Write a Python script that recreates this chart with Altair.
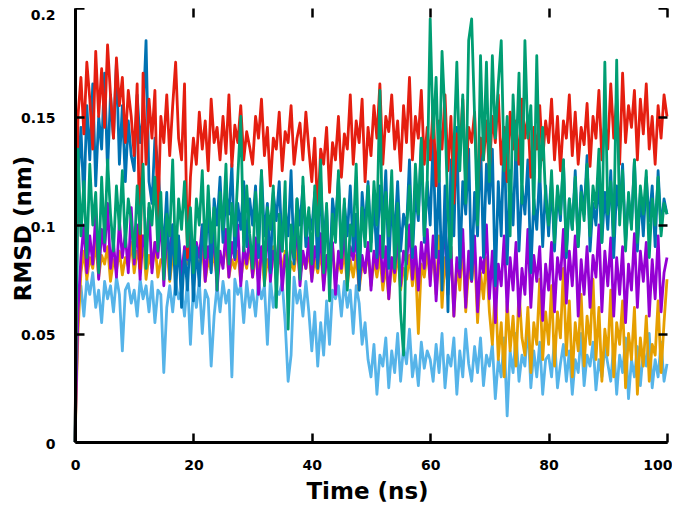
import altair as alt
import pandas as pd

# RMSD values in units of 0.001 nm, sampled every 0.5 ns from 0 to 100 ns
TIME_STEP_NS = 0.5

sky_vals = [
    0, 65, 72, 58, 75, 68, 78, 62, 70, 55, 74, 66, 72, 60, 76, 68, 42, 70, 73, 64,
    70, 58, 75, 66, 72, 60, 74, 55, 70, 68, 32, 62, 72, 60, 74, 66, 70, 58, 75, 45,
    72, 62, 74, 50, 70, 66, 35, 58, 72, 60, 74, 64, 70, 30, 75, 68, 72, 55, 74, 62,
    70, 58, 74, 66, 72, 45, 75, 62, 70, 68, 74, 55, 28, 40, 76, 64, 70, 58, 74, 60,
    42, 60, 35, 55, 40, 65, 45, 70, 66, 72, 58, 74, 62, 70, 50, 72, 64, 45, 55, 38,
    30, 45, 22, 40, 35, 48, 25, 42, 32, 50, 28, 44, 36, 52, 30, 40, 26, 46, 34, 42,
    38, 28, 45, 32, 50, 25, 40, 35, 48, 22, 42, 30, 52, 36, 28, 44, 32, 48, 26, 40,
    35, 45, 20, 38, 30, 48, 12, 42, 32, 50, 28, 40, 35, 55, 25, 42, 30, 46, 22, 38,
    40, 30, 48, 25, 36, 45, 28, 42, 22, 38, 32, 50, 26, 40, 35, 46, 24, 38, 30, 44,
    36, 28, 45, 22, 40, 32, 48, 20, 38, 30, 44, 26, 42, 35, 50, 25, 38, 30, 46, 28,
    36,
]

orange_vals = [
    0, 50, 78, 88, 75, 85, 80, 92, 76, 86, 82, 90, 74, 84, 79, 88, 77, 85, 81, 92,
    78, 88, 82, 95, 75, 86, 80, 92, 76, 84, 82, 90, 74, 86, 80, 88, 76, 85, 82, 90,
    78, 86, 80, 90, 74, 84, 79, 88, 75, 85, 82, 92, 76, 84, 80, 88, 74, 86, 80, 90,
    76, 85, 80, 88, 73, 84, 78, 90, 75, 86, 80, 88, 74, 83, 79, 90, 76, 85, 80, 88,
    75, 84, 78, 88, 72, 85, 80, 90, 74, 83, 78, 88, 72, 84, 76, 86, 70, 82, 78, 88,
    72, 84, 76, 86, 70, 82, 66, 85, 74, 88, 70, 80, 75, 86, 72, 84, 50, 82, 76, 88,
    75, 88, 68, 95, 62, 85, 72, 90, 58, 82, 70, 92, 60, 80, 74, 88, 55, 78, 66, 85,
    60, 45, 72, 38, 55, 30, 65, 42, 58, 35, 70, 48, 40, 62, 32, 55, 45, 75, 38, 60,
    45, 72, 35, 60, 48, 80, 40, 65, 30, 55, 42, 68, 35, 58, 45, 75, 38, 62, 28, 52,
    40, 70, 30, 55, 45, 65, 25, 50, 38, 62, 22, 48, 35, 58, 28, 45, 40, 65, 32, 55,
    75,
]

purple_vals = [
    0, 60, 85, 100, 78, 95, 82, 105, 75, 98, 88, 110, 80, 92, 76, 102, 85, 96, 78, 108,
    82, 100, 75, 95, 88, 108, 78, 92, 85, 104, 72, 96, 86, 100, 80, 94, 76, 90, 84, 98,
    78, 92, 85, 100, 74, 90, 82, 96, 70, 88, 80, 98, 76, 92, 84, 100, 72, 90, 82, 95,
    76, 94, 68, 90, 80, 98, 74, 88, 82, 95, 70, 86, 78, 92, 84, 100, 72, 88, 80, 94,
    74, 90, 82, 96, 70, 86, 78, 92, 68, 88, 80, 98, 74, 90, 84, 95, 72, 86, 78, 92,
    70, 88, 80, 95, 74, 90, 66, 85, 78, 96, 72, 88, 82, 100, 75, 90, 70, 92, 80, 98,
    72, 95, 65, 88, 80, 102, 68, 90, 58, 85, 76, 98, 62, 88, 74, 95, 60, 85, 78, 100,
    66, 88, 55, 82, 72, 95, 60, 85, 70, 92, 58, 80, 68, 98, 62, 86, 74, 90, 56, 82,
    70, 92, 60, 85, 75, 98, 64, 88, 72, 95, 58, 84, 68, 90, 62, 86, 76, 100, 60, 88,
    72, 94, 58, 85, 68, 90, 55, 82, 70, 96, 62, 88, 74, 92, 58, 84, 66, 95, 60, 78,
    85,
]

blue_vals = [
    0, 120, 145, 110, 155, 130, 165, 118, 150, 135, 170, 125, 160, 140, 175, 128, 155, 120, 148, 132,
    125, 160, 138, 150, 185, 120, 110, 140, 128, 105, 90, 115, 75, 100, 68, 95, 62, 88, 70, 98,
    65, 90, 72, 100, 85, 110, 78, 112, 100, 122, 92, 115, 105, 128, 85, 110, 98, 120, 90, 112,
    100, 118, 85, 125, 95, 110, 78, 115, 102, 120, 88, 108, 95, 125, 82, 112, 100, 118, 90, 105,
    98, 115, 80, 120, 92, 108, 75, 112, 100, 122, 85, 110, 95, 118, 88, 105, 70, 115, 98, 120,
    92, 110, 85, 118, 100, 125, 80, 112, 95, 120, 88, 105, 98, 130, 85, 115, 102, 138, 92, 120,
    100, 140, 85, 125, 70, 118, 60, 130, 95, 145, 80, 120, 105, 135, 75, 115, 95, 140, 85, 128,
    110, 135, 72, 120, 95, 145, 82, 125, 100, 138, 88, 118, 105, 130, 78, 112, 98, 125, 90, 118,
    95, 120, 88, 115, 102, 130, 85, 112, 98, 125, 90, 118, 105, 132, 88, 110, 100, 122, 92, 115,
    98, 125, 85, 118, 105, 128, 92, 112, 100, 130, 88, 115, 95, 122, 102, 118, 90, 125, 98, 112,
    105,
]

red_vals = [
    0, 150, 168, 142, 175, 158, 135, 180, 150, 172, 145, 183, 160, 140, 177, 155, 168, 138, 162, 150,
    132, 165, 80, 170, 128, 158, 140, 162, 100, 150, 138, 160, 132, 155, 175, 140, 130, 165, 85, 122,
    140, 128, 152, 135, 148, 125, 158, 138, 145, 130, 150, 133, 160, 127, 146, 138, 155, 130, 143, 136,
    128, 150, 140, 158, 132, 145, 118, 140, 135, 152, 125, 143, 138, 155, 128, 140, 147, 130, 152, 135,
    120, 140, 105, 135, 128, 145, 115, 138, 130, 150, 122, 142, 135, 160, 128, 148, 138, 158, 120, 145,
    132, 155, 140, 165, 128, 150, 143, 160, 135, 148, 125, 155, 138, 168, 130, 150, 140, 162, 128, 145,
    130, 155, 118, 148, 135, 160, 125, 150, 110, 142, 132, 158, 120, 145, 138, 152, 115, 140, 130, 148,
    125, 150, 138, 160, 128, 145, 120, 152, 135, 148, 128, 158, 140, 150, 122, 145, 135, 155, 130, 148,
    138, 158, 130, 150, 125, 148, 140, 160, 132, 152, 128, 145, 137, 156, 127, 150, 140, 162, 130, 148,
    135, 165, 140, 158, 128, 170, 138, 155, 145, 162, 130, 158, 142, 165, 135, 150, 128, 155, 140, 160,
    150,
]

green_vals = [
    0, 135, 95, 120, 85, 128, 100, 115, 78, 122, 92, 130, 105, 88, 118, 98, 125, 90, 112, 102,
    85, 118, 96, 128, 80, 110, 100, 122, 88, 115, 75, 105, 95, 130, 82, 112, 98, 120, 90, 108,
    78, 112, 100, 125, 85, 118, 92, 108, 70, 115, 98, 128, 82, 110, 95, 122, 150, 88, 118, 96,
    80, 115, 92, 125, 72, 108, 98, 118, 62, 105, 88, 120, 52, 100, 85, 112, 75, 122, 95, 108,
    82, 118, 95, 130, 78, 110, 65, 105, 92, 125, 85, 112, 70, 100, 95, 128, 80, 108, 90, 118,
    88, 120, 100, 162, 85, 115, 95, 125, 80, 110, 60, 40, 98, 118, 90, 128, 105, 140, 95, 120,
    195, 140, 168, 120, 180, 150, 105, 85, 135, 175, 125, 160, 110, 185, 195, 150, 100, 178, 130, 175,
    120, 178, 140, 165, 185, 125, 150, 95, 160, 130, 170, 110, 185, 140, 155, 105, 178, 120, 145, 112,
    100, 125, 92, 118, 105, 130, 88, 112, 98, 122, 90, 115, 102, 128, 95, 118, 108, 135, 92, 175,
    105, 120, 95, 176, 100, 125, 88, 115, 98, 130, 92, 118, 105, 125, 85, 112, 100, 122, 95, 110,
    105,
]

# drawing order: bottom -> top
series_order = ["sky", "orange", "purple", "blue", "red", "green"]
series_values = {
    "sky": sky_vals,
    "orange": orange_vals,
    "purple": purple_vals,
    "blue": blue_vals,
    "red": red_vals,
    "green": green_vals,
}
series_colors = {
    "sky": "#56B4E9",
    "orange": "#E69F00",
    "purple": "#9400D3",
    "blue": "#0072B2",
    "red": "#E51E10",
    "green": "#009E73",
}

x_ticks = [0, 20, 40, 60, 80, 100]
y_ticks = [0, 0.05, 0.1, 0.15, 0.2]

rows = []
for name in series_order:
    for i, v in enumerate(series_values[name]):
        rows.append({"series": name, "t": i * TIME_STEP_NS, "rmsd": v / 1000.0})
df = pd.DataFrame(rows)

FONT = "DejaVu Sans"
x_scale = alt.Scale(domain=[0, 100], nice=False, zero=False)
y_scale = alt.Scale(domain=[0, 0.2], nice=False, zero=False)

axis_x_main = alt.Axis(
    orient="bottom", values=x_ticks, grid=False, ticks=False, tickSize=0,
    domain=True, domainColor="black", domainWidth=3,
    labelPadding=16, labelFlush=False, labelOverlap=False,
    labelAlign={"condition": {"test": "datum.value >= 100", "value": "right"}, "value": "center"},
    labelOffset={"condition": {"test": "datum.value >= 100", "value": 5}, "value": 0},
    title="Time (ns)", titleX=292, titleY=56, titleAlign="center",
    titleBaseline="alphabetic", zindex=2,
)
axis_y_main = alt.Axis(
    orient="left", values=y_ticks, format="~g", grid=False, ticks=False, tickSize=0,
    domain=True, domainColor="black", domainWidth=3,
    labelPadding=20, labelFlush=False, labelOverlap=False,
    labelBaseline="middle",
    labelOffset={"condition": {"test": "datum.value >= 0.2", "value": 7}, "value": 2},
    title="RMSD (nm)", titleAngle=270, titleX=-45, titleY=220, titleAlign="center",
    titleBaseline="alphabetic", zindex=2,
)
tick_style = dict(grid=False, domain=False, labels=False, ticks=True, tickSize=9,
                  tickWidth=2.5, tickColor="black", offset=-9, title=None, zindex=2)
axis_x_top = alt.Axis(orient="top", values=x_ticks, **tick_style)
axis_x_bottom_in = alt.Axis(orient="bottom", values=x_ticks, **tick_style)
axis_y_left_in = alt.Axis(orient="left", values=y_ticks, **tick_style)
axis_y_right = alt.Axis(orient="right", values=y_ticks, **tick_style)

axis_map = {
    "sky": (axis_x_main, axis_y_main),
    "orange": (axis_x_top, axis_y_right),
    "purple": (axis_x_bottom_in, axis_y_left_in),
}

layers = []
for name in series_order:
    ax_x, ax_y = axis_map.get(name, (None, None))
    layer = (
        alt.Chart(df)
        .transform_filter(alt.datum.series == name)
        .mark_line(color=series_colors[name], strokeWidth=2.8, strokeJoin="round")
        .encode(
            x=alt.X("t:Q", scale=x_scale, axis=ax_x),
            y=alt.Y("rmsd:Q", scale=y_scale, axis=ax_y),
        )
    )
    layers.append(layer)

chart = (
    alt.layer(*layers)
    .resolve_axis(x="independent", y="independent")
    .properties(
        width=592,
        height=434,
        autosize=alt.AutoSizeParams(type="none"),
        padding={"left": 67, "top": 0, "right": 5, "bottom": 60},
        background="white",
    )
    .configure_view(stroke=None)
    .configure_axis(
        labelFont=FONT, labelFontSize=14, labelFontWeight="bold", labelColor="black",
        titleFont=FONT, titleFontSize=23, titleFontWeight="bold", titleColor="black",
    )
)

chart.save("out.html", embed_options={"renderer": "svg", "actions": False})
